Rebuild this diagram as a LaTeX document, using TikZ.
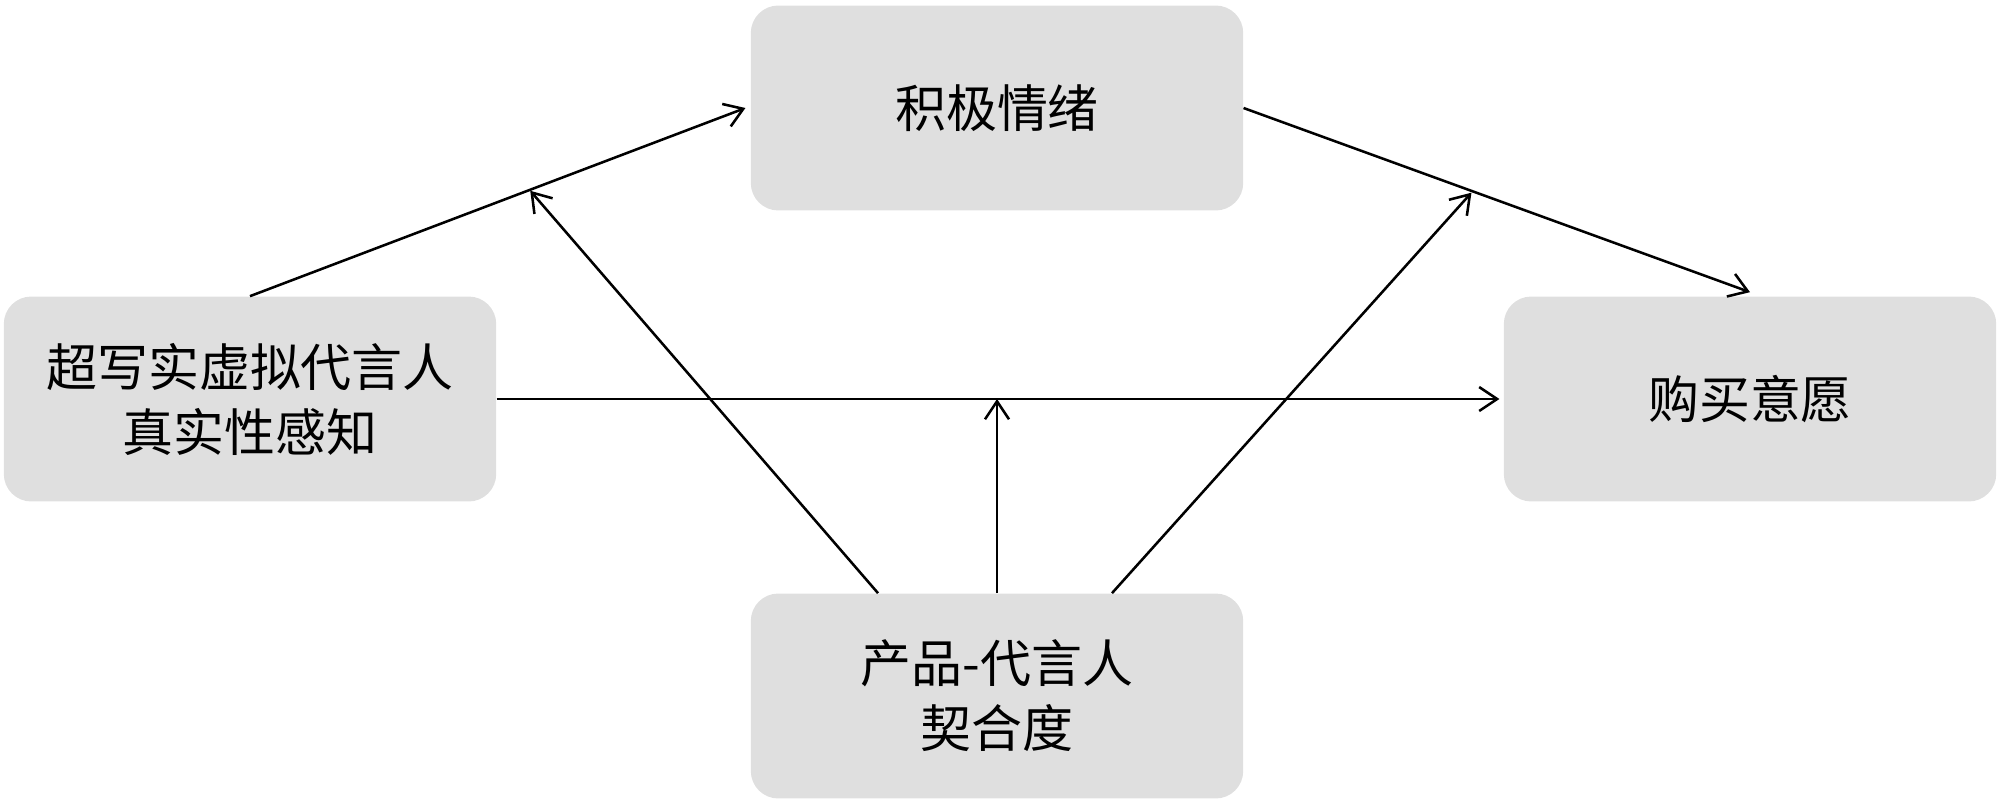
\documentclass[tikz,border=0pt]{standalone}
\usepackage{fontspec}
\newfontfamily\cjk{Noto Sans CJK SC}
\usetikzlibrary{arrows.meta,calc}
\begin{document}
\begin{tikzpicture}[x=0.02cm,y=-0.02cm,
  box/.style={fill=boxgray,draw=none,rounded corners=0.55cm,
    minimum width=9.85cm,minimum height=4.1cm,inner sep=0pt,align=center,
    font=\cjk\fontsize{29}{37}\selectfont},
  conn/.style={line width=1.45pt,-{Straight Barb[length=3.6mm,width=4.8mm,line width=1.45pt]}}]
\definecolor{boxgray}{HTML}{DFDFDF}
\useasboundingbox (0,0) rectangle (2000,804);
\node[box] (T) at (997,108) {积极情绪};
\node[box] (L) at (250,399) {超写实虚拟代言人\\真实性感知};
\node[box] (R) at (1750,399) {购买意愿};
\node[box] (B) at (997,696) {产品-代言人\\契合度};
\coordinate (a1) at ($(L.north)!0.56!(T.west)$);
\coordinate (a2) at ($(T.east)!0.45!(R.north)$);
\draw[conn] (L.north) -- ([xshift=-0.1cm]T.west);
\draw[conn] (T.east) -- ([yshift=0.08cm]R.north);
\draw[conn] (L.east) -- ([xshift=-0.08cm]R.west);
\draw[conn] ([xshift=-2.38cm]B.north) -- (a1);
\draw[conn] (B.north) -- (B.north |- L.east);
\draw[conn] ([xshift=2.3cm]B.north) -- (a2);
\end{tikzpicture}
\end{document}
